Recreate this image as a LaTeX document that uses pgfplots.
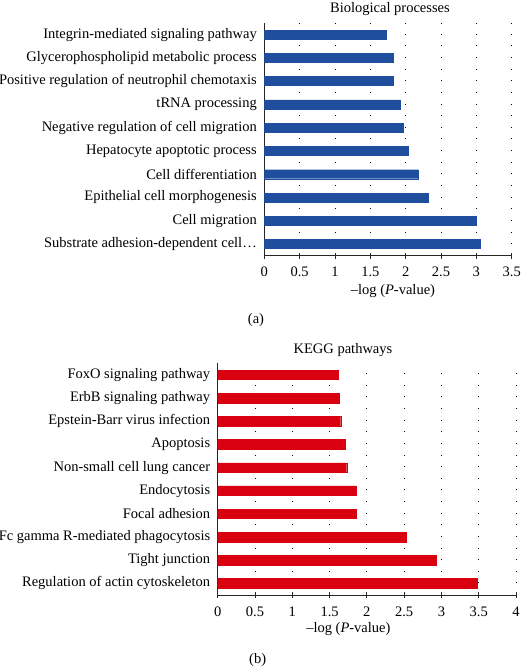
\documentclass[border=0pt]{standalone}
\usepackage{pgfplots}
\pgfplotsset{compat=1.18}
\usepackage{fontspec}
\setmainfont{Liberation Serif}
\definecolor{barblue}{HTML}{1F4E9E}
\definecolor{barred}{HTML}{D9000F}
\newcommand{\fsz}{\fontsize{14.5}{16}\selectfont}
\pgfplotsset{
  mystyle/.style={
    scale only axis, xbar, bar width=9pt,
    axis x line*=bottom, axis y line*=left,
    axis line style={line width=0.8pt, black!85},
    ymin=-0.5, ymax=9.5, ytick={0,...,9},
    xmin=0,
    tick align=center, major tick length=6pt,
    x tick style={line width=0.8pt, black!85},
    y tick style={draw=none},
    xmajorgrids,
    grid style={black, line width=0.9pt, dash pattern=on 0.9pt off 10.73pt},
    font=\fsz,
    tick label style={font=\fsz},
    /pgf/number format/assume math mode=true,
    yticklabel style={xshift=-1pt},
    xticklabel style={yshift=-5pt},
    title style={anchor=center, font=\fsz},
    xlabel style={anchor=center, font=\fsz},
  }
}
\begin{document}
\begin{tikzpicture}[x=1pt,y=1pt]
\useasboundingbox (0pt,0pt) rectangle (521pt,669pt);
% top axis
\begin{axis}[mystyle,
  at={(264.3pt,413.3pt)}, anchor=south west,
  width=247.4pt, height=232.7pt,
  xmax=3.5, xtick={0,0.5,...,3.5},
  xticklabels={0,0.5,1,1.5,2,2.5,3,3.5},
  yticklabels={Substrate adhesion-dependent cell\ldots, Cell migration, Epithelial cell morphogenesis, Cell differentiation, Hepatocyte apoptotic process, Negative regulation of cell migration, tRNA processing, Positive regulation of neutrophil chemotaxis, Glycerophospholipid metabolic process, Integrin-mediated signaling pathway},
  title={Biological processes},
  title style={at={(axis description cs:0.508,1)}, yshift=8pt},
  xlabel={\textendash log (\textit{P}-value)},
  xlabel style={at={(axis description cs:0.52,0)}, yshift=-35pt},
]
\addplot[fill=barblue, draw=barblue] coordinates {
 (3.06,0) (3.00,1) (2.32,2) (2.18,3) (2.03,4) (1.96,5) (1.92,6) (1.825,7) (1.825,8) (1.72,9)};
\end{axis}
\node at (256pt,349pt) {\fsz (a)};
% bottom axis
\begin{axis}[mystyle,
  at={(217.7pt,74pt)}, anchor=south west,
  width=298.3pt, height=231.7pt,
  xmax=4, xtick={0,0.5,...,4},
  xticklabels={0,0.5,1,1.5,2,2.5,3,3.5,4},
  yticklabels={Regulation of actin cytoskeleton, Tight junction, Fc gamma R-mediated phagocytosis, Focal adhesion, Endocytosis, Non-small cell lung cancer, Apoptosis, Epstein-Barr virus infection, ErbB signaling pathway, FoxO signaling pathway},
  title={KEGG pathways},
  title style={at={(axis description cs:0.42,1)}, yshift=7pt},
  xlabel={\textendash log (\textit{P}-value)},
  xlabel style={at={(axis description cs:0.438,0)}, yshift=-34.3pt},
  bar width=9.5pt,
]
\addplot[fill=barred, draw=barred] coordinates {
 (3.48,0) (2.93,1) (2.53,2) (1.86,3) (1.86,4) (1.73,5) (1.71,6) (1.65,7) (1.63,8) (1.62,9)};
\end{axis}
\node at (257.7pt,9pt) {\fsz (b)};
\end{tikzpicture}
\end{document}
